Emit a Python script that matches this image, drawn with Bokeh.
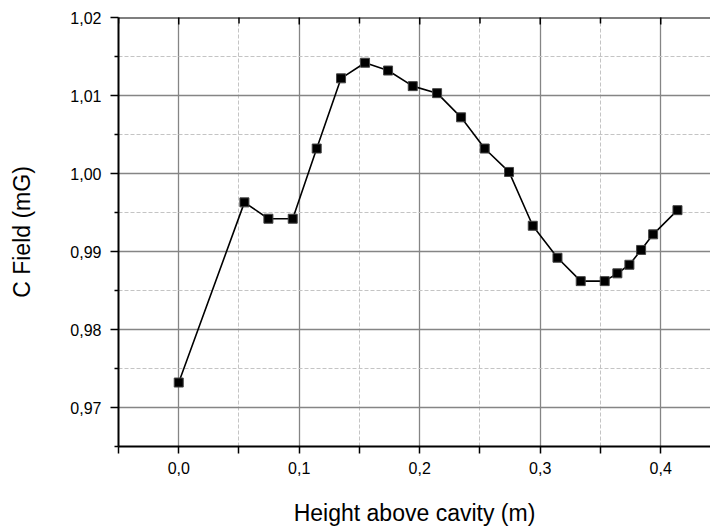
import math
from bokeh.plotting import figure
from bokeh.models import (LinearAxis, Grid, FixedTicker, Range1d, Span,
                          CustomJSTickFormatter, ColumnDataSource)
from bokeh.embed import file_html
from bokeh.resources import INLINE

# ---- data ----
height_m = [0.000, 0.0545, 0.0744, 0.0946, 0.1145, 0.1347, 0.1546, 0.1737,
            0.1942, 0.2144, 0.2343, 0.2539, 0.2741, 0.2938, 0.3143, 0.3336,
            0.3535, 0.3640, 0.3740, 0.3837, 0.3937, 0.4139]
c_field_mG = [0.9732, 0.9963, 0.9942, 0.9942, 1.0032, 1.0122, 1.0142, 1.0132,
              1.0112, 1.0103, 1.0072, 1.0032, 1.0002, 0.9933, 0.9892, 0.9862,
              0.9862, 0.9872, 0.9883, 0.9902, 0.9922, 0.9953]

x_major = [0.0, 0.1, 0.2, 0.3, 0.4]
x_minor = [-0.05, 0.05, 0.15, 0.25, 0.35]
y_major = [0.97, 0.98, 0.99, 1.00, 1.01, 1.02]
y_minor = [0.965, 0.975, 0.985, 0.995, 1.005, 1.015]

x_label = "Height above cavity (m)"
y_label = "C Field (mG)"

FONT = "Liberation Sans"
Y_TOP = 1.02
Y_BOTTOM = 0.965

src = ColumnDataSource(dict(x=height_m, y=c_field_mG))

p = figure(frame_width=592, frame_height=429,
           x_range=Range1d(-0.05, 0.4413), y_range=Range1d(Y_BOTTOM, Y_TOP),
           output_backend="svg", toolbar_location=None,
           x_axis_type=None, y_axis_type=None,
           min_border_left=118, min_border_right=0,
           min_border_top=17, min_border_bottom=80)
p.outline_line_color = None
p.background_fill_color = "white"
p.border_fill_color = "white"

xt = FixedTicker(ticks=x_major, minor_ticks=x_minor)
yt = FixedTicker(ticks=y_major, minor_ticks=y_minor)

xfmt = CustomJSTickFormatter(code="return tick.toFixed(1).replace('.', ',');")
yfmt = CustomJSTickFormatter(code="return tick.toFixed(2).replace('.', ',');")

# grids
for dim, tk in ((0, xt), (1, yt)):
    g = Grid(dimension=dim, ticker=tk,
             grid_line_color="#858585", grid_line_width=1.3,
             minor_grid_line_color="#c4c4c4", minor_grid_line_width=1,
             minor_grid_line_dash="4 2")
    p.add_layout(g)

# bottom axis
xb = LinearAxis(ticker=xt, formatter=xfmt, axis_label=x_label)
xb.axis_line_width = 2
xb.axis_line_color = "black"
xb.major_tick_in = 0
xb.major_tick_out = 7
xb.minor_tick_in = 0
xb.minor_tick_out = 7
xb.major_tick_line_width = 1.5
xb.minor_tick_line_width = 1.5
xb.major_label_text_font = FONT
xb.major_label_text_font_size = "16px"
xb.major_label_text_color = "black"
xb.major_label_standoff = 8
xb.axis_label_text_font = FONT
xb.axis_label_text_font_size = "23px"
xb.axis_label_text_font_style = "normal"
xb.axis_label_text_color = "black"
xb.axis_label_standoff = 23
p.add_layout(xb, "below")

# left axis
yl = LinearAxis(ticker=yt, formatter=yfmt, axis_label=y_label)
yl.axis_line_width = 2
yl.axis_line_color = "black"
yl.major_tick_in = 0
yl.major_tick_out = 8
yl.minor_tick_in = 0
yl.minor_tick_out = 4
yl.major_tick_line_width = 1.5
yl.minor_tick_line_width = 1.5
yl.major_label_text_font = FONT
yl.major_label_text_font_size = "16px"
yl.major_label_text_color = "black"
yl.major_label_standoff = 9
yl.axis_label_text_font = FONT
yl.axis_label_text_font_size = "23px"
yl.axis_label_text_font_style = "normal"
yl.axis_label_text_color = "black"
yl.axis_label_standoff = 32
p.add_layout(yl, "left")

# top frame line with inward ticks (no labels)
p.add_layout(Span(location=Y_TOP, dimension="width", line_color="black",
                  line_width=2))
p.scatter(x=x_major, y=[Y_TOP] * len(x_major), marker="dash", size=14,
          angle=math.pi / 2, line_color="black", line_width=1.5)
p.scatter(x=x_minor, y=[Y_TOP] * len(x_minor), marker="dash", size=12,
          angle=math.pi / 2, line_color="black", line_width=1.5)

p.line("x", "y", source=src, line_color="black", line_width=1.6)
p.scatter("x", "y", source=src, marker="square", size=9,
          fill_color="black", line_color="#444444", line_width=1)

open("out.html", "w").write(file_html(p, INLINE))
